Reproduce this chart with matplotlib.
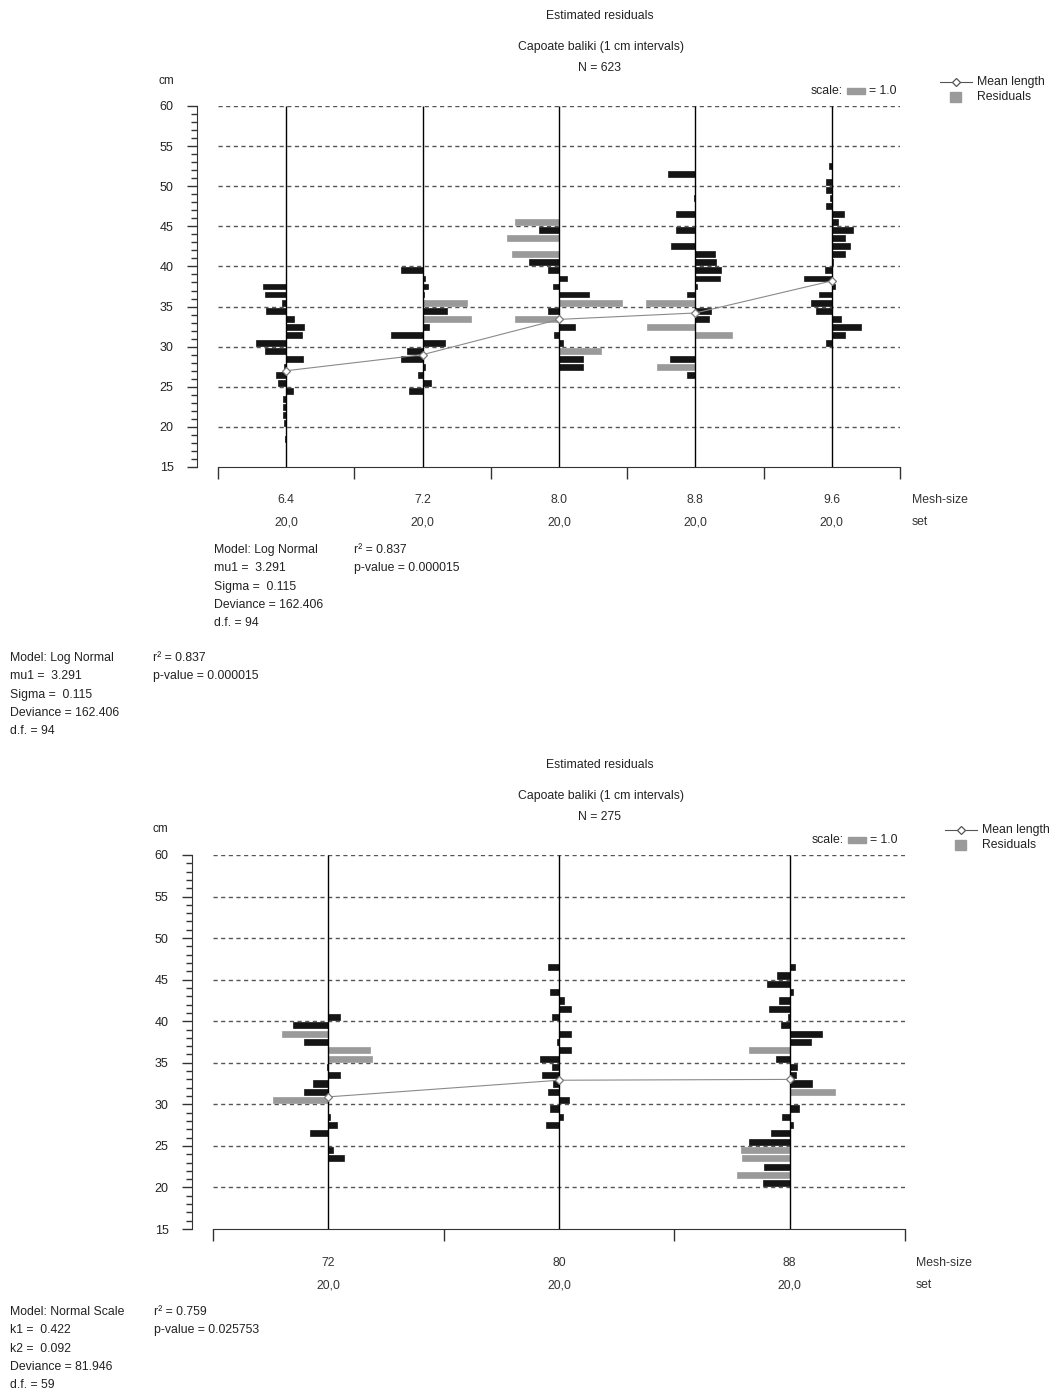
import numpy as np
import matplotlib
matplotlib.use('Agg')
import matplotlib.pyplot as plt
import matplotlib.transforms as mtransforms
from matplotlib.lines import Line2D
from matplotlib.patches import Rectangle

plt.rcParams['font.family'] = ['Liberation Sans', 'DejaVu Sans']
plt.rcParams['font.size'] = 8.8
plt.rcParams['text.color'] = '#222222'

W, H = 1052, 1394

# ---- top panel data (bar at length-class midpoint, residual, gray = large residual)
top_mesh = ['6.4', '7.2', '8.0', '8.8', '9.6']
top_set = ['20,0', '20,0', '20,0', '20,0', '20,0']
top_means = [27.0, 29.0, 33.4, 34.2, 38.2]

top_len_64 = [37.5, 36.5, 35.5, 34.5, 33.5, 32.5, 31.5, 30.5, 29.5, 28.5, 27.5, 26.5, 25.5, 24.5, 23.5, 22.5, 21.5, 20.5, 18.5]
top_res_64 = [-1.3, -1.2, -0.26, -1.1, 0.44, 1.0, 0.85, -1.67, -1.18, 0.93, -0.1, -0.56, -0.44, 0.4, -0.19, -0.19, -0.19, -0.1, -0.07]
top_len_72 = [39.5, 38.5, 37.5, 36.5, 35.5, 34.5, 33.5, 32.5, 31.5, 30.5, 29.5, 28.5, 27.5, 26.5, 25.5, 24.5]
top_res_72 = [-1.22, 0.15, 0.3, 0.07, 2.48, 1.37, 2.7, 0.37, -1.74, 1.22, -0.89, -1.22, 0.15, -0.26, 0.48, -0.74]
top_len_80 = [45.5, 44.5, 43.5, 41.5, 40.5, 39.5, 38.5, 37.5, 36.5, 35.5, 34.5, 33.5, 32.5, 31.5, 30.5, 29.5, 28.5, 27.5]
top_res_80 = [-2.46, -1.13, -2.87, -2.61, -1.69, -0.61, 0.43, -0.35, 1.69, 3.5, -0.61, -2.46, 0.91, -0.28, 0.24, 2.35, 1.35, 1.35]
top_len_88 = [51.5, 48.5, 46.5, 44.5, 42.5, 41.5, 40.5, 39.5, 38.5, 37.5, 36.5, 35.5, 34.5, 33.5, 32.5, 31.5, 28.5, 27.5, 26.5]
top_res_88 = [-1.52, -0.07, -1.07, -1.07, -1.33, 1.07, 1.15, 1.41, 1.37, 0.11, -0.48, -2.74, 0.85, 0.78, -2.67, 2.05, -1.41, -2.15, -0.48]
top_len_96 = [52.5, 50.5, 49.5, 48.5, 47.5, 46.5, 45.5, 44.5, 43.5, 42.5, 41.5, 40.5, 39.5, 38.5, 37.5, 36.5, 35.5, 34.5, 33.5, 32.5, 31.5, 30.5]
top_res_96 = [-0.13, -0.31, -0.31, -0.09, -0.31, 0.65, 0.35, 1.17, 0.76, 1.02, 0.76, 0.09, -0.39, -1.54, 0.2, -0.72, -1.13, -0.87, 0.5, 1.61, 0.76, -0.31]
top_gray = [[], [35.5, 33.5], [45.5, 43.5, 41.5, 35.5, 33.5, 29.5], [35.5, 32.5, 31.5, 27.5], []]

# ---- bottom panel data
bot_mesh = ['72', '80', '88']
bot_set = ['20,0', '20,0', '20,0']
bot_means = [30.9, 32.9, 33.0]

bot_len_72 = [40.5, 39.5, 38.5, 37.5, 36.5, 35.5, 34.5, 33.5, 32.5, 31.5, 30.5, 28.5, 27.5, 26.5, 24.5, 23.5]
bot_res_72 = [0.63, -1.95, -2.59, -1.37, 2.3, 2.44, -0.07, 0.63, -0.85, -1.37, -3.07, 0.07, 0.48, -1.04, 0.26, 0.89]
bot_len_80 = [46.5, 43.5, 42.5, 41.5, 40.5, 38.5, 37.5, 36.5, 35.5, 34.5, 33.5, 32.5, 31.5, 30.5, 29.5, 28.5, 27.5]
bot_res_80 = [-0.63, -0.48, 0.3, 0.67, -0.37, 0.67, -0.11, 0.67, -1.07, -0.41, -0.96, -0.33, -0.63, 0.56, -0.48, 0.22, -0.7]
bot_len_88 = [46.5, 45.5, 44.5, 43.5, 42.5, 41.5, 40.5, 39.5, 38.5, 37.5, 36.5, 35.5, 34.5, 33.5, 32.5, 31.5, 29.5, 28.5, 27.5, 26.5, 25.5, 24.5, 23.5, 22.5, 21.5, 20.5]
bot_res_88 = [0.28, -0.69, -1.28, 0.17, -0.61, -1.17, -0.09, -0.46, 1.8, 1.17, -2.24, -0.76, 0.43, 0.35, 1.24, 2.54, 0.5, -0.43, 0.17, -1.02, -2.24, -2.72, -2.65, -1.43, -2.91, -1.5]
bot_gray = [[38.5, 36.5, 35.5, 30.5], [], [36.5, 31.5, 24.5, 23.5, 21.5]]

top_model = ['Model: Log Normal', 'mu1 =  3.291', 'Sigma =  0.115', 'Deviance = 162.406', 'd.f. = 94']
top_fit = ['r\u00b2 = 0.837', 'p-value = 0.000015']
bot_model = ['Model: Normal Scale', 'k1 =  0.422', 'k2 =  0.092', 'Deviance = 81.946', 'd.f. = 59']
bot_fit = ['r\u00b2 = 0.759', 'p-value = 0.025753']

BLACK = '#151515'
GRAY = '#9a9a9a'
SCALE_PX = 18  # pixels for residual = 1.0

fig = plt.figure(figsize=(W / 100, H / 100), dpi=100)


def fx(px):
    return px / W


def fy(py):
    return 1 - py / H


def panel(left, right, top, bottom, lens, ress, gray, means, mesh, sets, y0):
    ax = fig.add_axes([fx(left), fy(bottom), (right - left) / W, (bottom - top) / H])
    n = len(mesh)
    ax.set_xlim(-0.5, n - 0.5)
    ax.set_ylim(15, 60)
    unit = SCALE_PX / ((right - left) / n)

    for sp in ['top', 'right']:
        ax.spines[sp].set_visible(False)
    ax.spines['left'].set_position(('outward', 15))
    ax.spines['left'].set_color('#333333')
    ax.spines['bottom'].set_color('#333333')

    ax.set_yticks(np.arange(15, 61, 5))
    ax.set_yticks(np.arange(15, 61, 1), minor=True)
    ax.tick_params(axis='y', which='major', length=7.5, width=1, color='#333333',
                   pad=9.5, labelsize=9, labelcolor='#222222')
    ax.tick_params(axis='y', which='minor', length=4.3, width=1, color='#333333')
    ax.set_xticks(np.arange(-0.5, n, 1))
    ax.set_xticklabels([])
    ax.tick_params(axis='x', length=8.6, width=1, color='#333333')

    for g in range(20, 61, 5):
        ax.axhline(g, color='#555555', lw=1, ls=(0, (3, 2.5)), zorder=1)
    ax.vlines(np.arange(n), 15, 60, color='black', lw=1, zorder=3)

    for i in range(n):
        cols = [GRAY if L in gray[i] else BLACK for L in lens[i]]
        ax.barh(lens[i], np.array(ress[i]) * unit, left=i, height=0.74,
                color=cols, edgecolor=cols, lw=0.5, zorder=2)

    ax.plot(np.arange(n), means, color='#8a8a8a', lw=0.8, marker='D', ms=4.5,
            mfc='white', mec='#7a7a7a', mew=0.9, zorder=4)

    tr = mtransforms.blended_transform_factory(ax.transData, fig.transFigure)
    for i in range(n):
        ax.text(i, fy(y0), mesh[i], transform=tr, ha='center', va='center', color='#333333')
        ax.text(i, fy(y0 + 22), sets[i], transform=tr, ha='center', va='center', color='#333333')
    return ax


def header(yt, nlab, cm_x, cm_y):
    fig.text(fx(600), fy(yt), 'Estimated residuals', ha='center', va='center')
    fig.text(fx(601), fy(yt + 31), 'Capoate baliki (1 cm intervals)', ha='center', va='center')
    fig.text(fx(600), fy(yt + 52), nlab, ha='center', va='center')
    fig.text(fx(cm_x), fy(cm_y), 'cm', ha='center', va='center', fontsize=8.5)


def legend(x0, y0, sx, sy):
    fig.text(fx(sx - 4), fy(sy), 'scale:', ha='right', va='center')
    fig.add_artist(Rectangle((fx(sx), fy(sy + 3)), 18 / W, 6 / H, color=GRAY,
                             transform=fig.transFigure))
    fig.text(fx(sx + 22), fy(sy), '= 1.0', ha='left', va='center')
    fig.add_artist(Line2D([fx(x0), fx(x0 + 32)], [fy(y0), fy(y0)], color='#555555', lw=0.8,
                          transform=fig.transFigure))
    fig.add_artist(Line2D([fx(x0 + 16)], [fy(y0)], marker='D', ms=4.5, mfc='white',
                          mec='#555555', mew=0.9, transform=fig.transFigure))
    fig.text(fx(x0 + 37), fy(y0), 'Mean length', ha='left', va='center')
    fig.add_artist(Rectangle((fx(x0 + 10), fy(y0 + 20)), 11 / W, 10 / H, color=GRAY,
                             transform=fig.transFigure))
    fig.text(fx(x0 + 37), fy(y0 + 15), 'Residuals', ha='left', va='center')


def model_box(x, y, lines, fit, dx):
    for k, s in enumerate(lines):
        fig.text(fx(x), fy(y + k * 18.3), s, ha='left', va='center')
    for k, s in enumerate(fit):
        fig.text(fx(x + dx), fy(y + k * 18.3), s, ha='left', va='center')


# top panel
header(16, 'N = 623', 166, 81)
panel(218, 900, 106, 467,
      [top_len_64, top_len_72, top_len_80, top_len_88, top_len_96],
      [top_res_64, top_res_72, top_res_80, top_res_88, top_res_96],
      top_gray, top_means, top_mesh, top_set, 500)
fig.text(fx(912), fy(500), 'Mesh-size', ha='left', va='center', color='#333333')
fig.text(fx(912), fy(522), 'set', ha='left', va='center', color='#333333')
legend(940, 82, 847, 91)
model_box(214, 550, top_model, top_fit, 140)
model_box(10, 658, top_model, top_fit, 143)

# bottom panel
header(765, 'N = 275', 160, 829)
panel(213, 905, 855, 1229,
      [bot_len_72, bot_len_80, bot_len_88],
      [bot_res_72, bot_res_80, bot_res_88],
      bot_gray, bot_means, bot_mesh, bot_set, 1263)
fig.text(fx(916), fy(1263), 'Mesh-size', ha='left', va='center', color='#333333')
fig.text(fx(916), fy(1285), 'set', ha='left', va='center', color='#333333')
legend(945, 830, 848, 840)
model_box(10, 1312, bot_model, bot_fit, 144)

fig.savefig('out.png', dpi=100)
